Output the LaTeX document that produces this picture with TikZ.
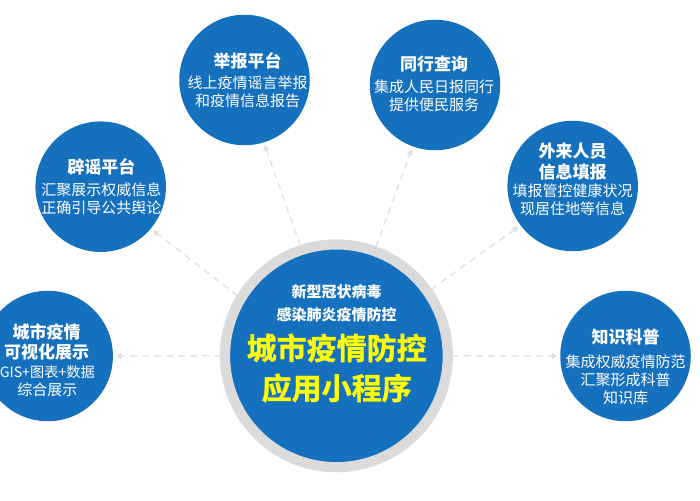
\documentclass[tikz,border=0pt]{standalone}
\usepackage{fontspec}
\setmainfont{Noto Sans CJK SC}
\newfontfamily\hubfont[BoldFont={Noto Sans CJK SC Bold},BoldFeatures={FakeBold=1.2}]{Noto Sans CJK SC}
\usetikzlibrary{arrows.meta}
\definecolor{discblue}{HTML}{1570BE}
\definecolor{ringgray}{HTML}{DBDBDB}
\definecolor{linkgray}{HTML}{E0E0E0}
\tikzset{
  x=1pt,y=1pt,
  disc/.style={circle,fill=discblue,inner sep=0pt,outer sep=0pt,minimum size=130.5pt},
  hubring/.style={circle,fill=discblue,draw=ringgray,line width=10.2pt,inner sep=0pt,outer sep=0pt,minimum size=222.8pt},
  titletext/.style={text=white,font=\fontsize{17}{20.5}\selectfont\bfseries,align=center,inner sep=0pt},
  bodytext/.style={text=white,font=\fontsize{15}{18}\selectfont,align=center,inner sep=0pt},
  hubsmall/.style={text=white,font=\fontsize{15}{23}\selectfont\bfseries,align=center,inner sep=0pt},
  hubbig/.style={text={rgb,255:red,255;green,255;blue,0},font=\hubfont\fontsize{30}{40}\selectfont\bfseries,align=center,inner sep=0pt},
  link/.style={draw=linkgray,line width=1.3pt,dash pattern=on 7pt off 5pt,-{Triangle[length=5.5pt,width=6.5pt,fill=linkgray]},shorten <=4pt,shorten >=3pt}
}
\begin{document}
\begin{tikzpicture}
\useasboundingbox (0,0) rectangle (700,500);
\clip (0,0) rectangle (700,500);
\node[hubring] (hub) at (336.4,144.2) {};
\node[disc] (pi) at (100.7,313.3) {};
\node[disc] (ke) at (47.7,144) {};
\node[disc] (ju) at (244.5,420) {};
\node[disc] (tx) at (435,415) {};
\node[disc] (wl) at (572.7,314) {};
\node[disc] (zs) at (625.5,144) {};

\draw[link] (hub.149) -- (pi.-40);
\draw[link] (hub.180) -- (ke.0);
\draw[link] (hub.108.8) -- (ju.-73.3);
\draw[link] (hub.70.5) -- (tx.-110.3);
\draw[link] (hub.35.2) -- (wl.217);
\draw[link] (hub.0) -- (zs.180);

\node[hubsmall] (hubsub) at (336.7,196.5) {新型冠状病毒\\感染肺炎疫情防控};
\node[hubbig] (hubmain) at (336.7,132) {城市疫情防控\\应用小程序};

\node[titletext] (pit) at (101.3,333.3) {辟谣平台};
\node[bodytext] (pib) at (101.3,301) {汇聚展示权威信息\\正确引导公共舆论};
\node[titletext] (ket) at (46.7,157.8) {城市疫情\\可视化展示};
\node[bodytext] (keb) at (47.3,119) {{\fontsize{14.2}{18}\selectfont GIS+图表+数据}\\综合展示};
\node[titletext] (jut) at (247.5,439.3) {举报平台};
\node[bodytext] (jub) at (247.5,407.8) {线上疫情谣言举报\\和疫情信息报告};
\node[titletext] (txt) at (434,436) {同行查询};
\node[bodytext] (txb) at (434,404.5) {集成人民日报同行\\提供便民服务};
\node[titletext] (wlt) at (572.7,338.3) {外来人员\\信息填报};
\node[bodytext] (wlb) at (572.7,300.5) {填报管控健康状况\\现居住地等信息};
\node[titletext] (zst) at (625.5,162.7) {知识科普};
\node[bodytext] (zsb) at (625.5,119.8) {集成权威疫情防范\\汇聚形成科普\\知识库};
\end{tikzpicture}
\end{document}
